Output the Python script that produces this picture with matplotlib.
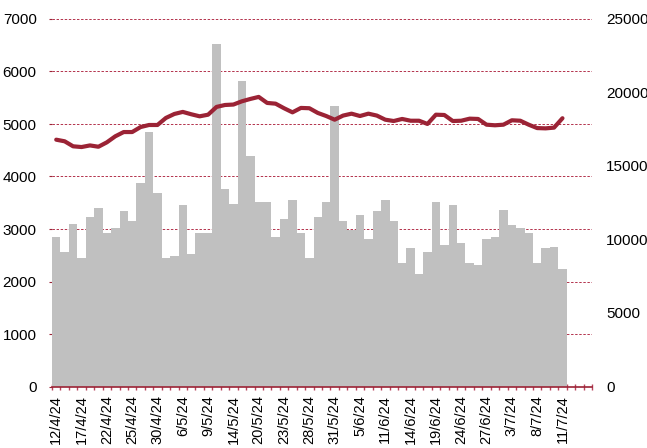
import matplotlib
matplotlib.use("Agg")
import matplotlib.pyplot as plt
import numpy as np

plt.rcParams['font.family'] = ['Liberation Sans', 'DejaVu Sans']

# trading days 12/4/24 - 11/7/24
dates = ["12/4/24", "15/4/24", "16/4/24", "17/4/24", "18/4/24", "19/4/24", "22/4/24",
         "23/4/24", "24/4/24", "25/4/24", "26/4/24", "29/4/24", "30/4/24", "2/5/24",
         "3/5/24", "6/5/24", "7/5/24", "8/5/24", "9/5/24", "10/5/24", "13/5/24",
         "14/5/24", "16/5/24", "17/5/24", "20/5/24", "21/5/24", "22/5/24", "23/5/24",
         "24/5/24", "27/5/24", "28/5/24", "29/5/24", "30/5/24", "31/5/24", "3/6/24",
         "4/6/24", "5/6/24", "6/6/24", "7/6/24", "11/6/24", "12/6/24", "13/6/24",
         "14/6/24", "17/6/24", "18/6/24", "19/6/24", "20/6/24", "21/6/24", "24/6/24",
         "25/6/24", "26/6/24", "27/6/24", "28/6/24", "2/7/24", "3/7/24", "4/7/24",
         "5/7/24", "8/7/24", "9/7/24", "10/7/24", "11/7/24"]

# bars, left axis
volume = [2840, 2560, 3090, 2445, 3230, 3400, 2915, 3020, 3335, 3160,
          3870, 4855, 3690, 2445, 2485, 3450, 2520, 2915, 2915, 6530,
          3755, 3475, 5815, 4395, 3505, 3505, 2840, 3195, 3550, 2915,
          2445, 3230, 3505, 5340, 3160, 2980, 3270, 2805, 3335, 3545,
          3160, 2345, 2630, 2135, 2560, 3515, 2700, 3450, 2735, 2345,
          2305, 2805, 2840, 3365, 3085, 3020, 2915, 2345, 2630, 2660,
          2235]

# line, right axis
index_level = [16790, 16680, 16340, 16290, 16400, 16310, 16610, 17020, 17310, 17310,
               17650, 17790, 17790, 18270, 18540, 18680, 18520, 18380, 18490, 19020,
               19150, 19180, 19400, 19560, 19700, 19290, 19240, 18930, 18650, 18950,
               18930, 18610, 18400, 18150, 18430, 18560, 18400, 18560, 18430, 18150,
               18060, 18200, 18080, 18080, 17860, 18490, 18470, 18060, 18080, 18220,
               18200, 17810, 17770, 17810, 18110, 18080, 17810, 17580, 17560, 17610,
               18250]

n_slots = 64
red = "#9B2335"
grid_red = "#B3324C"

fig = plt.figure(figsize=(6.47, 4.48), dpi=100)
ax = fig.add_axes([52 / 647, 1 - 386.5 / 448, 540 / 647, 367.5 / 448])
x = np.arange(len(dates))

ax.bar(x, volume, width=1.0, color="#C0C0C0", zorder=2)
ax.set_xlim(-0.5, n_slots - 0.5)
ax.set_ylim(0, 7000)
ax.set_yticks(np.arange(0, 7001, 1000))
ax.yaxis.grid(True, color=grid_red, linestyle=(0, (2.5, 1.7)), linewidth=0.7)
ax.set_axisbelow(True)

ax.set_xticks(x[::3])
ax.set_xticklabels(dates[::3], rotation=90, fontsize=10.5)
ax.set_xticks(np.arange(-0.5, n_slots, 1), minor=True)
ax.tick_params(axis="x", which="major", length=0, pad=6)
ax.tick_params(axis="x", which="minor", direction="inout", length=5, width=1, color="#B8465E")
ax.tick_params(axis="y", length=2, width=0.8, color=red, pad=9, labelsize=11)

for s in ["top", "left", "right"]:
    ax.spines[s].set_visible(False)
ax.spines["bottom"].set_color(red)
ax.spines["bottom"].set_linewidth(1.2)
ax.spines["bottom"].set_zorder(3)

ax2 = ax.twinx()
ax2.plot(x, index_level, color=red, linewidth=3, solid_capstyle="round", zorder=4)
ax2.set_ylim(0, 25000)
ax2.set_yticks(np.arange(0, 25001, 5000))
ax2.tick_params(axis="y", length=0, pad=10, labelsize=11)
for s in ["top", "left", "right", "bottom"]:
    ax2.spines[s].set_visible(False)

fig.savefig("out.png", dpi=100)
